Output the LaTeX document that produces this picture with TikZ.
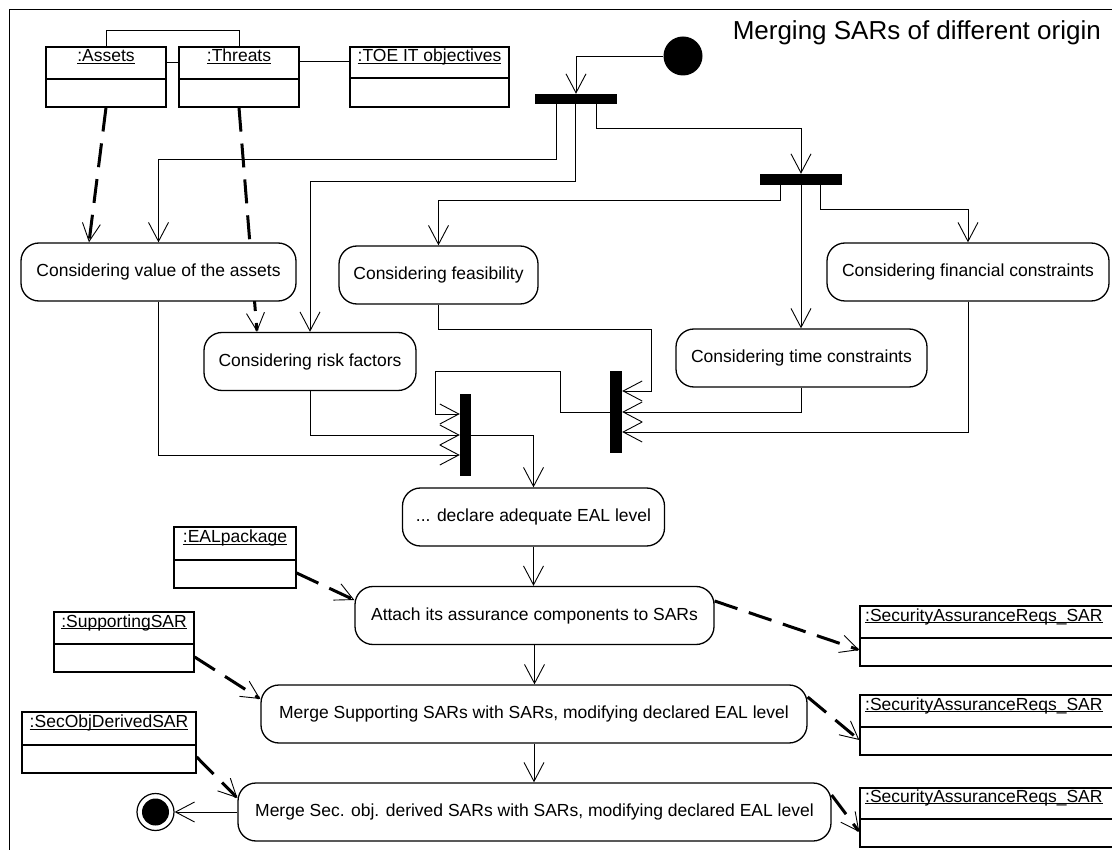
\documentclass[tikz,border=0pt]{standalone}
\usepackage{fontspec}
\setmainfont{Liberation Sans}
\usetikzlibrary{arrows.meta,backgrounds}

% underlined object name, rule placed just under the baseline
\newcommand{\objname}[1]{\underline{\smash{#1}}}

% UML object box: name, x1, y1, x2, y2, divider y, label
\newcommand{\umlobj}[7]{%
  \node[objbox, minimum width={(#4-#2)*1pt}, minimum height={(#5-#3)*1pt}] (#1) at ({(#2+#4)/2},{(#3+#5)/2}) {};
  \draw[objrule] (#2,#6) -- (#4,#6);
  \node[objlabel] (#1-label) at ({(#2+#4)/2},{(#3+#6)/2}) {\objname{#7}};
}

\tikzset{
  objbox/.style={draw, fill=white, line width=1.3pt, inner sep=0pt},
  objrule/.style={line width=1.3pt},
  objlabel/.style={inner sep=0pt, font=\fontsize{17.5}{21}\selectfont},
  act/.style={draw, fill=white, line width=1.3pt, rounded corners=18pt,
    minimum height=58pt, inner sep=0pt, font=\fontsize{17.5}{21}\selectfont},
  bar/.style={fill=black, draw=none, inner sep=0pt},
  flow/.style={line width=0.9pt, -{Straight Barb[length=19pt,width=20pt]}},
  link/.style={line width=0.9pt},
  oflow/.style={line width=3pt, dash pattern=on 24pt off 12pt,
    -{Straight Barb[length=18pt,width=18pt,line width=0.9pt]}},
}

\begin{document}
\begin{tikzpicture}[x=1pt,y=-1pt]
\useasboundingbox (0,0) rectangle (1112,850);

% title
\node[anchor=base east, inner sep=0pt, font=\fontsize{26}{31}\selectfont] (title) at (1101,40) {Merging SARs of different origin};

% objects
\umlobj{assets}{46}{47}{166}{107}{79}{:Assets}
\umlobj{threats}{179}{47}{299}{107}{79}{:Threats}
\umlobj{toe}{350}{47}{509}{107}{78}{:TOE IT objectives}
\umlobj{ealpkg}{174}{527}{296}{588}{560}{:EALpackage}
\umlobj{supp}{54}{612}{194}{672}{644}{:SupportingSAR}
\umlobj{secobj}{22}{712}{196}{773}{745}{:SecObjDerivedSAR}

% security assurance requirement objects (running off the right edge)
\node[objbox, minimum width=280pt, minimum height=60pt] (sarA) at (1000,636) {};
\draw[objrule] (860,638) -- (1140,638);
\node[objlabel, anchor=west] (sarA-label) at (865,622) {\objname{:SecurityAssuranceReqs\_SAR}};
\node[objbox, minimum width=280pt, minimum height=60pt] (sarB) at (1000,725) {};
\draw[objrule] (860,727) -- (1140,727);
\node[objlabel, anchor=west] (sarB-label) at (865,711) {\objname{:SecurityAssuranceReqs\_SAR}};
\node[objbox, minimum width=280pt, minimum height=59pt] (sarC) at (1000,817.5) {};
\draw[objrule] (860,819) -- (1140,819);
\node[objlabel, anchor=west] (sarC-label) at (865,803) {\objname{:SecurityAssuranceReqs\_SAR}};

% activities
\node[act, minimum width=275pt] (value) at (158.5,272) {Considering value of the assets};
\node[act, minimum width=199pt] (feas) at (438.5,275) {Considering feasibility};
\node[act, minimum width=212pt] (risk) at (310,361.5) {Considering risk factors};
\node[act, minimum width=251pt] (time) at (801.5,358) {Considering time constraints};
\node[act, minimum width=282pt] (fin) at (968,272) {Considering financial constraints};
\node[act, minimum width=262pt] (declare) at (533.5,517) {... declare adequate EAL level};
\node[act, minimum width=359pt] (attach) at (534.5,615.5) {Attach its assurance components to SARs};
\node[act, minimum width=546pt] (mergesup) at (534,714) {Merge Supporting SARs with SARs, modifying declared EAL level};
\node[act, minimum width=593pt] (mergesec) at (534.5,812) {Merge Sec. obj. derived SARs with SARs, modifying declared EAL level};

% forks and joins
\node[bar, minimum width=82pt, minimum height=10pt] (fork1) at (576,99) {};
\node[bar, minimum width=82pt, minimum height=11pt] (fork2) at (801,179.5) {};
\node[bar, minimum width=11pt, minimum height=82pt] (join1) at (465.5,435) {};
\node[bar, minimum width=12pt, minimum height=82pt] (join2) at (616,412) {};

% initial and final states
\node[circle, fill=black, minimum size=39pt, inner sep=0pt] (start) at (683,56) {};
\node[circle, draw, fill=white, line width=1.2pt, minimum size=37pt, inner sep=0pt] (end) at (155.5,812) {};
\fill (end.center) circle (13.5);

\begin{scope}[on background layer]
  \fill[white] (0,0) rectangle (1112,850);
  % outer frame
  \draw[line width=1.3pt] (9.5,9.5) rectangle (1130,870);

  % links between objects
  \draw[link] ([yshift=15pt]assets.east) -- ([yshift=15pt]threats.west);
  \draw[link] (assets.north) -- ++(0,-16) -| (threats.north);
  \draw[link] ([yshift=16pt]threats.east) -- ([yshift=16pt]toe.west);

  % control flow
  \draw[flow] (start.west) -| (fork1.north);
  \draw[flow] ([xshift=-20pt]fork1.south) -- ++(0,55) -| (value.north);
  \draw[flow] ([xshift=-1pt]fork1.south) -- ++(0,77) -| (risk.north);
  \draw[flow] ([xshift=20pt]fork1.south) -- ++(0,24) -| (fork2.north);
  \draw[flow] ([xshift=-21pt]fork2.south) -- ++(0,15) -| (feas.north);
  \draw[flow] (fork2.south) -- (fork2.south |- time.north);
  \draw[flow] ([xshift=19pt]fork2.south) -- ++(0,24) -| (fin.north);

  \draw[flow] (value.south) |- ([yshift=-20pt]join1.west);
  \draw[flow] (risk.south) |- (join1.west);
  \draw[flow] (join2.west) -- ++(-49,0) -- ++(0,-41) -- ++(-125,0) |- ([yshift=21pt]join1.west);

  \draw[flow] (feas.south) -- ++(0,25) -- ++(212.5,0) |- ([yshift=21pt]join2.east);
  \draw[flow] (time.south) |- (join2.east);
  \draw[flow] (fin.south) |- ([yshift=-20pt]join2.east);

  \draw[flow] (join1.east) -| (declare.north);
  \draw[flow] (declare.south) -- (declare.south |- attach.north);
  \draw[flow] (attach.south) -- (attach.south |- mergesup.north);
  \draw[flow] (mergesup.south) -- (mergesup.south |- mergesec.north);
  \draw[flow] (mergesec.west) -- (end.east);

  % object flow
  \draw[oflow] (assets.south) -- ([xshift=-69.5pt]value.north);
  \draw[oflow] (threats.south) -- ([xshift=-53pt]risk.north);
  \draw[oflow] ([yshift=-15.5pt]ealpkg.east) -- ([yshift=15.5pt]attach.west);
  \draw[oflow] ([yshift=14.5pt]attach.east) -- ([yshift=-14pt]sarA.west);
  \draw[oflow] ([yshift=-15pt]supp.east) -- ([yshift=15pt]mergesup.west);
  \draw[oflow] ([yshift=17pt]mergesup.east) -- ([yshift=-15pt]sarB.west);
  \draw[oflow] ([yshift=-14.5pt]secobj.east) -- ([yshift=14pt]mergesec.west);
  \draw[oflow] ([yshift=17pt]mergesec.east) -- ([yshift=-14.5pt]sarC.west);
\end{scope}
\end{tikzpicture}
\end{document}
